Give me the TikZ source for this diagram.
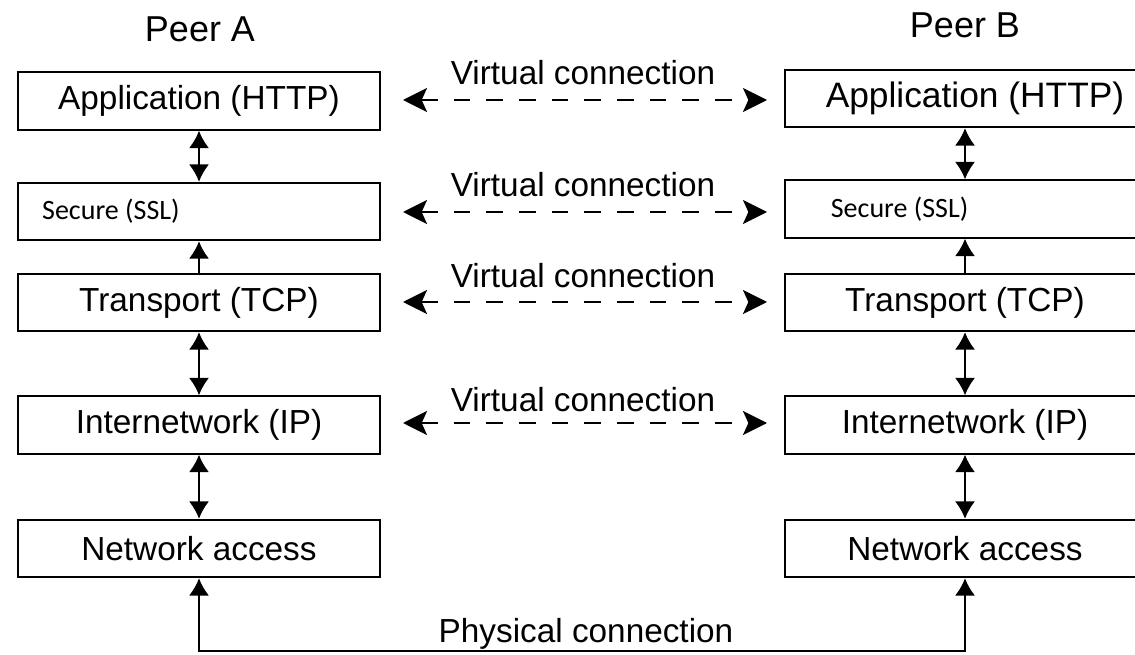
\documentclass[tikz,border=0pt]{standalone}
\usepackage{fontspec}
\setmainfont{Liberation Sans}
\newfontfamily\calib{Carlito}
\usetikzlibrary{arrows.meta,calc}
\begin{document}
\begin{tikzpicture}[x=0.75pt,y=-0.75pt,
  box/.style={draw, line width=1.6pt, minimum width=271.5pt, minimum height=43pt, inner sep=0pt, font=\fontsize{25}{30}\selectfont},
  rbox/.style={box, minimum width=270pt},
  peer/.style={font=\fontsize{27}{32}\selectfont, inner sep=0pt},
  lab/.style={font=\fontsize{25}{30}\selectfont, inner sep=0pt, anchor=base},
  sec/.style={font=\calib\fontsize{21}{25}\selectfont, inner sep=0pt, anchor=west},
  vert/.style={line width=1.4pt, {Latex[length=13pt,width=15pt]}-{Latex[length=13pt,width=15pt]}},
  vup/.style={line width=1.4pt, -{Latex[length=13pt,width=15pt]}},
  virt/.style={line width=1.8pt, dash pattern=on 12.5pt off 12pt,
     {Stealth[length=18pt,width=18pt,inset=4pt]}-{Stealth[length=18pt,width=18pt,inset=4pt]}},
  phys/.style={line width=1.4pt, {Latex[length=13pt,width=15pt]}-{Latex[length=13pt,width=15pt]}}
]
\useasboundingbox (0,0) rectangle (1135,655);
\clip (0,0) rectangle (1135,655);
\fill[white] (0,0) rectangle (1135,655);

% titles
\node[peer] (pa) at (200,29) {Peer A};
\node[peer] (pb) at (965,25) {Peer B};

% left stack
\node[box] (lapp) at (199,101) {Application (HTTP)};
\node[box] (lsec) at (199,211.5) {};
\node[sec] (lsect) at ([xshift=18.75pt]lsec.west) {Secure (SSL)};
\node[box] (ltcp) at (199,302.5) {Transport (TCP)};
\node[box] (lip)  at (199,425) {Internetwork (IP)};
\node[box] (lna)  at (199,548.5) {Network access};

% right stack
\node[rbox] (rapp) at (965,98.5) {};
\node[font=\fontsize{26.5}{31}\selectfont, inner sep=0pt] (rappt) at (975,98.5) {Application (HTTP)};
\node[rbox] (rsec) at (965,209) {};
\node[sec] (rsect) at ([xshift=35pt]rsec.west) {Secure (SSL)};
\node[rbox] (rtcp) at (965,302.5) {Transport (TCP)};
\node[rbox] (rip)  at (965,425) {Internetwork (IP)};
\node[rbox] (rna)  at (965,548.5) {Network access};

% vertical arrows
\draw[vert] (lapp.south) -- (lsec.north);
\draw[vup] (ltcp.north) -- (lsec.south);
\draw[vert] (ltcp.south) -- (lip.north);
\draw[vert] (lip.south) -- (lna.north);
\draw[vert] (rapp.south) -- (rsec.north);
\draw[vup] (rtcp.north) -- (rsec.south);
\draw[vert] (rtcp.south) -- (rip.north);
\draw[vert] (rip.south) -- (rna.north);

% virtual connections
\foreach \y/\n in {100/1, 212/2, 302/3, 423/4}{
  \coordinate (vl\n) at (403,\y);
  \coordinate (vr\n) at (767,\y);
  \draw[virt] (vl\n) -- (vr\n);
}
\node[lab] (v1) at (583,85) {Virtual connection};
\node[lab] (v2) at (583,197) {Virtual connection};
\node[lab] (v3) at (583,288) {Virtual connection};
\node[lab] (v4) at (583,412) {Virtual connection};

% physical connection
\coordinate (pl) at (lna.south |- 0,651);
\coordinate (pr) at (rna.south |- 0,651);
\draw[phys] (lna.south) -- (pl) -- (pr) -- (rna.south);
\node[lab] (plab) at (586,642) {Physical connection};
\end{tikzpicture}
\end{document}
